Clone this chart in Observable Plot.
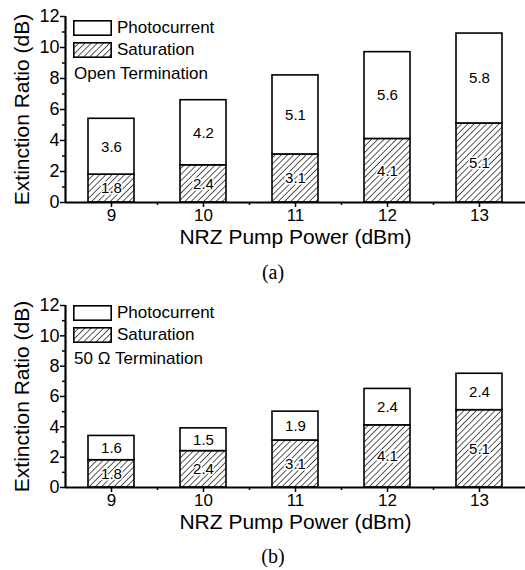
<!DOCTYPE html>
<html>
<head>
<meta charset="utf-8">
<script src="https://cdn.jsdelivr.net/npm/d3@7"></script>
<script src="https://cdn.jsdelivr.net/npm/@observablehq/plot@0.6"></script>
<style>
  body { margin: 0; background: #fff; }
  #wrap { position: relative; width: 525px; height: 570px; font-family: "Liberation Sans", Arial, sans-serif; color: #000; }
  .panel { position: absolute; left: 0; }
  .legend { position: absolute; font-size: 17px; line-height: 16px; }
  .legend .row { display: flex; align-items: center; height: 16px; }
  .legend .row span { margin-left: 5px; }
  .legend .note { margin-top: 6px; line-height: 20px; margin-left: 1px; }
  .caption { position: absolute; width: 60px; text-align: center; font-family: "Liberation Serif", "Times New Roman", serif; font-size: 20px; line-height: 20px; }
</style>
</head>
<body>
<svg width="0" height="0" style="position:absolute">
  <defs>
    <pattern id="hatch" patternUnits="userSpaceOnUse" width="4.4" height="4.4" patternTransform="rotate(45)">
      <rect width="4.4" height="4.4" fill="#fff"></rect>
      <line x1="0" y1="0" x2="0" y2="4.4" stroke="#000" stroke-width="1.3"></line>
    </pattern>
  </defs>
</svg>
<div id="wrap"></div>
<script>
// ---- data ----
const pump = [9, 10, 11, 12, 13];
const saturationA = [1.8, 2.4, 3.1, 4.1, 5.1];
const photocurrentA = [3.6, 4.2, 5.1, 5.6, 5.8];
const saturationB = [1.8, 2.4, 3.1, 4.1, 5.1];
const photocurrentB = [1.6, 1.5, 1.9, 2.4, 2.4];
const yTicks = [0, 2, 4, 6, 8, 10, 12];
const yMinorTicks = [1, 3, 5, 7, 9, 11];
const xTicks = [9, 10, 11, 12, 13];
const xMinorTicks = [9.5, 10.5, 11.5, 12.5];
const seriesNames = ["Photocurrent", "Saturation"];
const xLabel = "NRZ Pump Power (dBm)";
const yLabel = "Extinction Ratio (dB)";
const notes = ["Open Termination", "50 \u03A9 Termination"];
const captions = ["(a)", "(b)"];

const wrap = document.getElementById("wrap");
const FONT = '"Liberation Sans", Arial, sans-serif';

function panel(sat, photo, cfg) {
  const rows = pump.map((p, i) => ({pump: p, sat: sat[i], photo: photo[i]}));
  const half = 0.25;
  const chart = Plot.plot({
    width: 525,
    height: cfg.height,
    marginTop: 16,
    marginLeft: 65,
    marginRight: 0,
    marginBottom: cfg.marginBottom,
    x: {domain: [8.5, 13.5]},
    y: {domain: [0, 12]},
    style: {fontFamily: FONT, color: "#000", background: "transparent", overflow: "visible"},
    marks: [
      Plot.rect(rows, {x1: d => d.pump - half, x2: d => d.pump + half, y1: 0, y2: "sat",
        fill: "url(#hatch)", stroke: "#000", strokeWidth: 1.6}),
      Plot.rect(rows, {x1: d => d.pump - half, x2: d => d.pump + half, y1: "sat", y2: d => d.sat + d.photo,
        fill: "#fff", stroke: "#000", strokeWidth: 1.6}),
      Plot.text(rows, {x: "pump", y: d => d.sat / 2, text: d => d.sat.toFixed(1),
        fontSize: 15, fill: "#000", stroke: "#fff", strokeWidth: 3}),
      Plot.text(rows, {x: "pump", y: d => d.sat + d.photo / 2, text: d => d.photo.toFixed(1),
        fontSize: 15, fill: "#000"}),
      Plot.axisY({ticks: yTicks, tickSize: 5, tickPadding: 1, fontSize: 18, label: null, strokeWidth: 1.5,
        tickFormat: d => String(d)}),
      Plot.axisY({ticks: yMinorTicks, tickSize: 3, tickFormat: () => "", label: null, strokeWidth: 1.5}),
      Plot.axisX({ticks: xTicks, tickSize: 5, tickPadding: 1, fontSize: 17, label: null, strokeWidth: 1.5,
        tickFormat: d => String(d)}),
      Plot.axisX({ticks: xMinorTicks, tickSize: 3, tickFormat: () => "", label: null, strokeWidth: 1.5}),
      Plot.ruleX([8.5], {strokeWidth: 2.2}),
      Plot.ruleY([0], {strokeWidth: 2.2}),
      Plot.text([xLabel], {frameAnchor: "bottom", dy: cfg.xLabelDy, text: d => d, fontSize: 21}),
      Plot.text([yLabel], {frameAnchor: "left", textAnchor: "middle", dx: -43, rotate: -90, text: d => d, fontSize: 21})
    ]
  });
  chart.classList.add("panel");
  chart.style.top = cfg.top + "px";
  wrap.appendChild(chart);

  // legend
  const lg = document.createElement("div");
  lg.className = "legend";
  lg.style.left = "73px";
  lg.style.top = cfg.legendTop + "px";
  lg.innerHTML =
    `<div class="row"><svg width="39" height="16"><rect x="0.8" y="0.8" width="37.4" height="14.4" fill="#fff" stroke="#000" stroke-width="1.6"/></svg><span>${seriesNames[0]}</span></div>` +
    `<div class="row" style="margin-top:6px"><svg width="39" height="16"><rect x="0.8" y="0.8" width="37.4" height="14.4" fill="url(#hatch)" stroke="#000" stroke-width="1.6"/></svg><span>${seriesNames[1]}</span></div>` +
    `<div class="note">${cfg.note}</div>`;
  wrap.appendChild(lg);

  const cap = document.createElement("div");
  cap.className = "caption";
  cap.textContent = cfg.caption;
  cap.style.left = (273 - 30) + "px";
  cap.style.top = (cfg.captionY - 10) + "px";
  wrap.appendChild(cap);
}

panel(saturationA, photocurrentA, {top: 0, height: 250, marginBottom: 48, xLabelDy: 41, legendTop: 20, note: notes[0], caption: captions[0], captionY: 272});
panel(saturationB, photocurrentB, {top: 289, height: 250, marginBottom: 52, xLabelDy: 41, legendTop: 305, note: notes[1], caption: captions[1], captionY: 556});
</script>
</body>
</html>
